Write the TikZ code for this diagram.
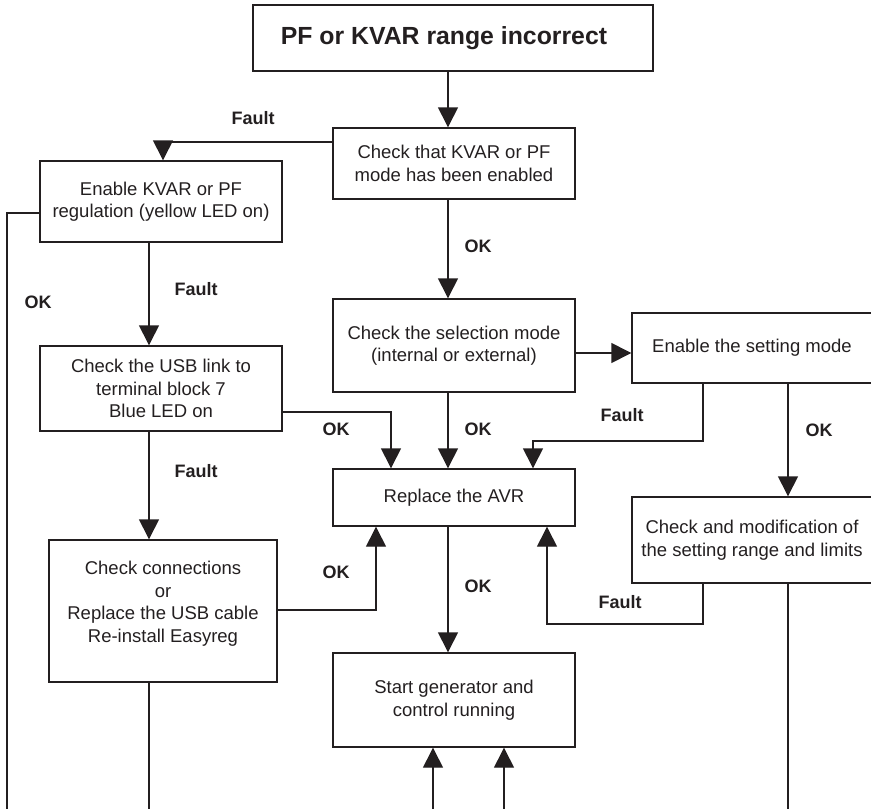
\documentclass[tikz,border=0pt]{standalone}
\usepackage{fontspec}
\setmainfont{Liberation Sans}
\usetikzlibrary{arrows.meta}
\definecolor{ink}{RGB}{35,31,32}
\begin{document}
\begin{tikzpicture}[x=1pt,y=-1pt,
  every node/.style={text=ink},
  box/.style={draw=ink, line width=1.4pt, align=center, inner sep=0pt,
    font=\fontsize{18.5}{22.5}\selectfont},
  lbl/.style={font=\bfseries\fontsize{18}{22}\selectfont, inner sep=0pt},
  conn/.style={draw=ink, line width=1.4pt},
  arr/.style={conn, -{Triangle[length=20pt,width=20pt]}},
]
\useasboundingbox (0,0) rectangle (871,809);
\clip (0,0) rectangle (871,809);
% column and row coordinates
\coordinate (xL) at (7,0);
\coordinate (xA) at (149,0);
\coordinate (xF) at (163,0);
\coordinate (xB) at (376,0);
\coordinate (xC) at (391,0);
\coordinate (xD) at (433,0);
\coordinate (xM) at (448,0);
\coordinate (xE) at (504,0);
\coordinate (xG) at (533,0);
\coordinate (xH) at (547,0);
\coordinate (xI) at (703,0);
\coordinate (xJ) at (788,0);
\coordinate (yF) at (0,142);
\coordinate (yK) at (0,213);
\coordinate (yU) at (0,412);
\coordinate (yC) at (0,610);
\coordinate (yS) at (0,353);
\coordinate (ySf) at (0,441);
\coordinate (yMf) at (0,624);
\coordinate (bot) at (0,815);

% boxes
\node[box, line width=2.6pt, minimum width=400pt, minimum height=66pt,
  font=\bfseries\fontsize{24.8}{28}\selectfont] (top) at (453,38) {PF or KVAR range incorrect\hspace*{18pt}};
\node[box, minimum width=242pt, minimum height=71pt] (ckv) at (454,163.5)
  {Check that KVAR or PF\\mode has been enabled};
\node[box, minimum width=242pt, minimum height=81pt] (ekv) at (161,201.5)
  {Enable KVAR or PF\\regulation (yellow LED on)};
\node[box, minimum width=242pt, minimum height=85pt] (usb) at (161,388.5)
  {Check the USB link to\\terminal block 7\\Blue LED on};
\node[box, minimum width=242pt, minimum height=93pt] (sel) at (454,345.5)
  {Check the selection mode\\(internal or external)};
\node[box, minimum width=250pt, minimum height=70pt] (set) at (757,348)
  {Enable the setting mode\hspace*{10pt}};
\node[box, minimum width=242pt, minimum height=57pt] (avr) at (454,497.5)
  {Replace the AVR};
\node[box, minimum width=250pt, minimum height=86pt] (mod) at (757,540)
  {Check and modification of\hspace*{10pt}\\the setting range and limits\hspace*{10pt}};
\node[box, minimum width=228pt, minimum height=142pt] (chc) at (163,611)
  {Check connections\\or\\Replace the USB cable\\Re-install Easyreg\\[-4pt]\mbox{}};
\node[box, minimum width=242pt, minimum height=94pt] (start) at (454,700)
  {Start generator and\\control running};

% connectors
\draw[arr] (top.south -| xM) -- (ckv.north -| xM);
\draw[arr] (ckv.west |- yF) -| (ekv.north -| xF);
\draw[conn] (ekv.west |- yK) -| (xL |- bot);
\draw[arr] (ekv.south -| xA) -- (usb.north -| xA);
\draw[arr] (usb.east |- yU) -| (avr.north -| xC);
\draw[arr] (usb.south -| xA) -- (chc.north -| xA);
\draw[arr] (chc.east |- yC) -| (avr.south -| xB);
\draw[conn] (chc.south -| xA) -- (xA |- bot);
\draw[arr] (ckv.south -| xM) -- (sel.north -| xM);
\draw[arr] (sel.south -| xM) -- (avr.north -| xM);
\draw[arr] (sel.east |- yS) -- (set.west |- yS);
\draw[arr] (set.south -| xI) -- (xI |- ySf) -| (avr.north -| xG);
\draw[arr] (set.south -| xJ) -- (mod.north -| xJ);
\draw[arr] (mod.south -| xI) -- (xI |- yMf) -| (avr.south -| xH);
\draw[conn] (mod.south -| xJ) -- (xJ |- bot);
\draw[arr] (avr.south -| xM) -- (start.north -| xM);
\draw[arr] (xD |- bot) -- (start.south -| xD);
\draw[arr] (xE |- bot) -- (start.south -| xE);

% labels
\node[lbl] (l1) at (253,118) {Fault};
\node[lbl] (l2) at (38,302) {OK};
\node[lbl] (l3) at (196,289) {Fault};
\node[lbl] (l4) at (478,246) {OK};
\node[lbl] (l5) at (336,429) {OK};
\node[lbl] (l6) at (478,429) {OK};
\node[lbl] (l7) at (622,415) {Fault};
\node[lbl] (l8) at (819,430) {OK};
\node[lbl] (l9) at (196,471) {Fault};
\node[lbl] (l10) at (336,572) {OK};
\node[lbl] (l11) at (478,586) {OK};
\node[lbl] (l12) at (620,602) {Fault};
\end{tikzpicture}
\end{document}
